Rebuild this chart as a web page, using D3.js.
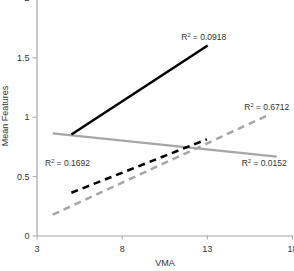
<!DOCTYPE html>
<html>
<head>
<meta charset="utf-8">
<script src="https://cdn.jsdelivr.net/npm/d3@7"></script>
<style>
	body { margin: 0; background: #fff; }
	text { font-family: "Liberation Sans", Arial, sans-serif; fill: #333; }
</style>
</head>
<body>
<div id="chart"></div>
<script>
// tick values
var xTicks = [3, 8, 13, 18];
var yTicks = [0, 0.5, 1, 1.5, 2];

// trend lines: [x1, y1, x2, y2]
var blackSolid = [5.05, 0.85, 13.05, 1.6];
var graySolid = [3.95, 0.86, 17.1, 0.665];
var blackDash = [5.05, 0.36, 13.0, 0.81];
var grayDash = [3.95, 0.175, 16.7, 1.02];

// r squared labels: [x, y, text]
var r2Labels = [
	[11.5, 1.645, "0.0918"],
	[15.2, 1.055, "0.6712"],
	[3.5, 0.585, "0.1692"],
	[15.05, 0.585, "0.0152"]
];

var width = 294, height = 271;

var svg = d3.select("#chart").append("svg")
	.attr("width", width)
	.attr("height", height);

var x = d3.scaleLinear().domain([3, 18]).range([36.5, 292]);
var y = d3.scaleLinear().domain([0, 2]).range([235.5, -2]);

//坐标轴
var xAxis = svg.append("g")
	.attr("transform", "translate(0," + y(0) + ")")
	.call(d3.axisBottom(x).tickValues(xTicks).tickSize(4).tickSizeOuter(0).tickFormat(d3.format("d")));
var yAxis = svg.append("g")
	.attr("transform", "translate(" + x(3) + ",0)")
	.call(d3.axisLeft(y).tickValues(yTicks).tickSize(4).tickSizeOuter(0).tickFormat(function (d) { return String(d); }));

[xAxis, yAxis].forEach(function (g) {
	g.select(".domain").attr("stroke", "#a6a6a6").attr("stroke-width", 1.2);
	g.selectAll(".tick line").attr("stroke", "#a6a6a6");
	g.selectAll(".tick text").style("font-size", "9px").attr("fill", "#333");
});
xAxis.selectAll(".tick text").attr("dy", "1em");
yAxis.selectAll(".tick text").attr("x", -7);

svg.append("text")
	.attr("x", 165)
	.attr("y", 266)
	.attr("text-anchor", "middle")
	.style("font-size", "9px")
	.text("VMA");

svg.append("text")
	.attr("transform", "translate(8," + 116 + ") rotate(-90)")
	.attr("text-anchor", "middle")
	.style("font-size", "9px")
	.text("Mean Features");

function drawLine(d, color, w, dash) {
	svg.append("line")
		.attr("x1", x(d[0]))
		.attr("y1", y(d[1]))
		.attr("x2", x(d[2]))
		.attr("y2", y(d[3]))
		.attr("stroke", color)
		.attr("stroke-width", w)
		.attr("stroke-dasharray", dash);
}

drawLine(graySolid, "#a6a6a6", 2.2, null);
drawLine(grayDash, "#a6a6a6", 2.5, "7,5");
drawLine(blackDash, "#000", 2.5, "7,5");
drawLine(blackSolid, "#000", 2.5, null);

var labels = svg.selectAll(".r2").data(r2Labels).enter().append("text")
	.attr("class", "r2")
	.attr("x", function (d) { return x(d[0]); })
	.attr("y", function (d) { return y(d[1]); })
	.style("font-size", "8.5px");
labels.append("tspan").text("R");
labels.append("tspan").attr("dy", -3).style("font-size", "5.5px").text("2");
labels.append("tspan").attr("dy", 3).text(function (d) { return " = " + d[2]; });
</script>
</body>
</html>
